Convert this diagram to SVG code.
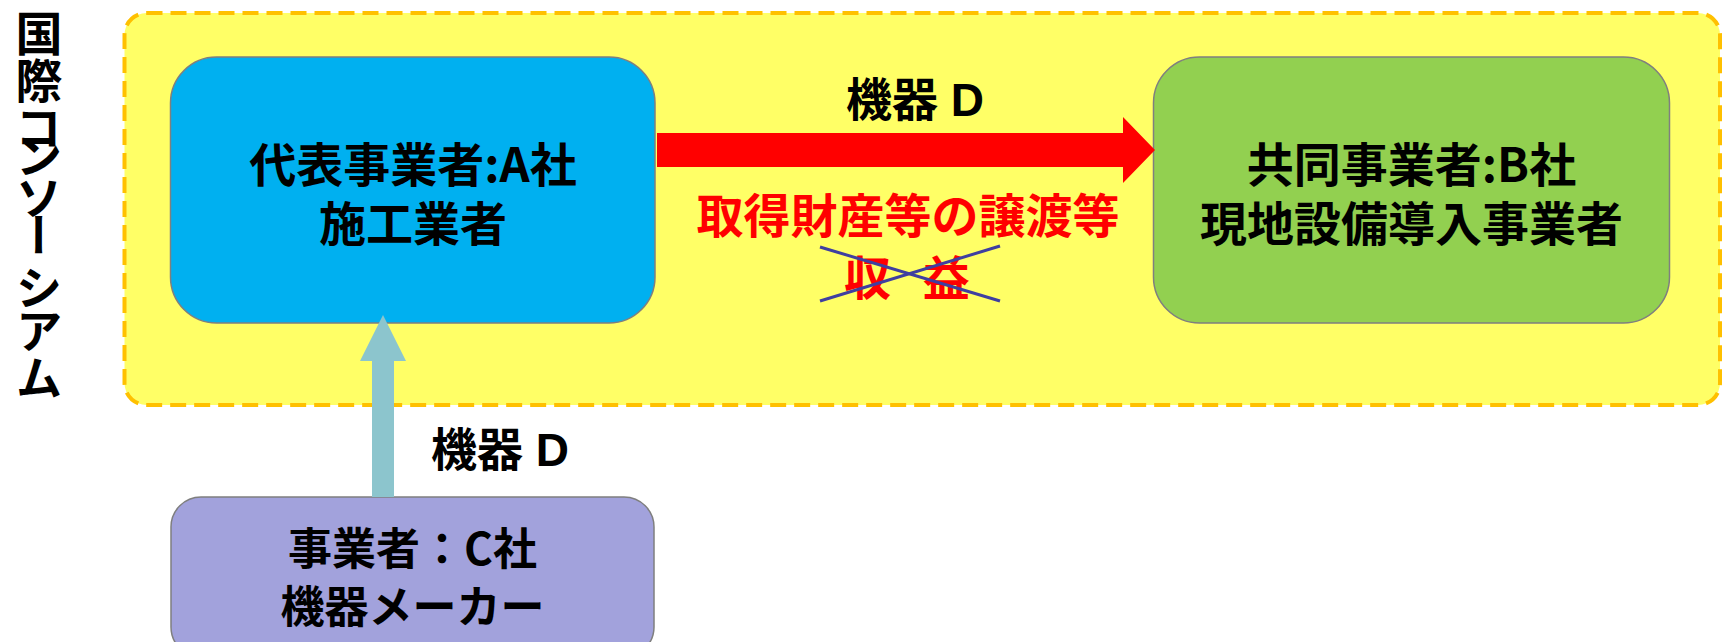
<svg xmlns="http://www.w3.org/2000/svg" width="1722" height="642" viewBox="0 0 1722 642">
<style>
.jp{font-family:"Noto Sans CJK JP","Noto Sans CJK SC",sans-serif;}
.lat{font-family:"Liberation Sans","Noto Sans CJK JP",sans-serif;}
.node-text{font-size:47px;font-weight:bold;fill:#000;text-anchor:middle;}
.node-box{stroke:#7F7F7F;stroke-width:1.5;}
.edge-label{font-size:46px;font-weight:bold;fill:#000;text-anchor:middle;}
.red-label{font-size:47px;font-weight:bold;fill:#FF0000;}
</style>
<rect width="1722" height="642" fill="#FFFFFF"/>
<g id="consortium">
<rect x="124.5" y="13" width="1595.5" height="392" rx="22" ry="22" fill="#FFFF66" stroke="#FFC000" stroke-width="4" stroke-dasharray="16 8"/>
<text class="jp" writing-mode="vertical-rl" x="39" font-size="47" font-weight="bold" fill="#000"><tspan y="10">国</tspan><tspan y="57">際</tspan><tspan y="104">コ</tspan><tspan y="132">ン</tspan><tspan y="174">ソ</tspan><tspan y="212">ー</tspan><tspan y="264">シ</tspan><tspan y="307">ア</tspan><tspan y="354">ム</tspan></text>
</g>
<g id="node-A">
<rect class="node-box" x="170.5" y="57" width="484.5" height="266" rx="46" ry="46" fill="#00B0F0"/>
<text class="jp node-text" x="413" y="182">代表事業者:A社</text>
<text class="jp node-text" x="413" y="241">施工業者</text>
</g>
<g id="node-B">
<rect class="node-box" x="1153.5" y="57" width="516" height="266" rx="46" ry="46" fill="#92D050"/>
<text class="jp node-text" x="1411.5" y="182">共同事業者:B社</text>
<text class="jp node-text" x="1411.5" y="241">現地設備導入事業者</text>
</g>
<g id="node-C">
<rect class="node-box" x="171" y="497" width="483" height="160" rx="30" ry="30" fill="#A2A2DC"/>
<text class="jp node-text" x="412.5" y="565" style="font-size:44px">事業者：C社</text>
<text class="jp node-text" x="412.5" y="623" style="font-size:44px">機器メーカー</text>
</g>
<g id="connectors">
<polygon points="657,133 1123,133 1123,117 1155,150 1123,183 1123,167 657,167" fill="#FF0000"/>
<text class="lat edge-label" x="915" y="116">機器 D</text>
<polygon points="372,497 372,361 360,361 383,315 406,361 394,361 394,497" fill="#8CC5CD"/>
<text class="lat edge-label" x="500" y="466">機器 D</text>
<text class="jp red-label" x="908" y="233" text-anchor="middle">取得財産等の譲渡等</text>
<text class="jp red-label" x="844" y="295" word-spacing="21">収 益</text>
<line x1="820" y1="247" x2="1000" y2="301" stroke="#3F3FA0" stroke-width="3"/>
<line x1="820" y1="301" x2="1000" y2="246" stroke="#3F3FA0" stroke-width="3"/>
</g>
</svg>
